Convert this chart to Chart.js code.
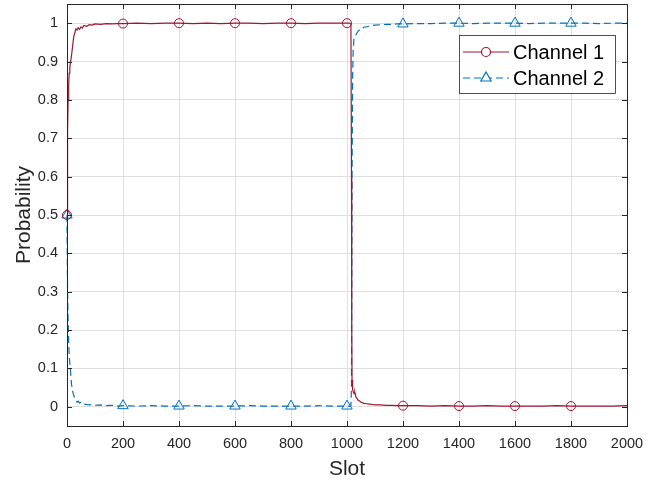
<!DOCTYPE html>
<html>
<head>
<meta charset="utf-8">
<script src="https://cdn.jsdelivr.net/npm/chart.js@4.4.0/dist/chart.umd.min.js"></script>
<style>
  html, body { margin: 0; padding: 0; background: #fff; }
  #wrap { width: 665px; height: 483px; }
</style>
</head>
<body>
<div id="wrap"><canvas id="probChart" width="665" height="483"></canvas></div>
<script>
const slots = [0, 2, 4, 6, 8, 10, 13, 16, 20, 24, 28, 32, 36, 40, 45, 50, 55, 60, 70, 80, 90, 100,
  120, 140, 160, 180, 200, 250, 300, 350, 400, 450, 500, 550, 600, 650, 700, 750, 800, 850, 900, 950,
  1000, 1010, 1014, 1016, 1017, 1018, 1020, 1022, 1025, 1028, 1032, 1036, 1040, 1045, 1050, 1055, 1060,
  1070, 1080, 1090, 1100, 1120, 1140, 1160, 1180, 1200, 1250, 1300, 1350, 1400, 1450, 1500, 1550, 1600,
  1650, 1700, 1750, 1800, 1850, 1900, 1950, 2000];

const channel1 = [0.5, 0.72, 0.8, 0.84, 0.87, 0.885, 0.9, 0.915, 0.94, 0.965, 0.975, 0.985, 0.982, 0.988, 0.984, 0.99, 0.987, 0.994, 0.992, 0.996, 0.995, 0.998,
  0.997, 0.999, 0.998, 0.999, 0.999, 1.0, 0.999, 1.0, 1.0, 0.999, 1.0, 0.999, 1.0, 1.0, 0.999, 1.0, 1.0, 0.999, 1.0, 1.0,
  1.0, 1.0, 0.998, 0.6, 0.2, 0.07, 0.045, 0.04, 0.034, 0.038, 0.025, 0.022, 0.017, 0.015, 0.012, 0.011, 0.009,
  0.008, 0.007, 0.006, 0.005, 0.005, 0.004, 0.004, 0.003, 0.003, 0.003, 0.002, 0.003, 0.002, 0.002, 0.003, 0.002, 0.002,
  0.002, 0.002, 0.003, 0.002, 0.002, 0.002, 0.002, 0.003];

const channel2 = [0.5, 0.3, 0.22, 0.17, 0.13, 0.115, 0.09, 0.06, 0.04, 0.03, 0.022, 0.018, 0.012, 0.015, 0.01, 0.012, 0.008, 0.007, 0.006, 0.005, 0.006, 0.004,
  0.005, 0.003, 0.004, 0.002, 0.003, 0.002, 0.003, 0.002, 0.002, 0.003, 0.002, 0.002, 0.002, 0.003, 0.002, 0.002, 0.002, 0.002, 0.003, 0.002,
  0.002, 0.002, 0.003, 0.05, 0.3, 0.6, 0.85, 0.93, 0.96, 0.965, 0.97, 0.975, 0.98, 0.982, 0.986, 0.985, 0.99,
  0.99, 0.993, 0.994, 0.995, 0.996, 0.997, 0.997, 0.998, 0.998, 0.999, 0.999, 1.0, 1.0, 0.999, 1.0, 1.0, 1.0,
  0.999, 1.0, 1.0, 1.0, 1.0, 0.999, 1.0, 1.0];

const markerSlots = [0, 200, 400, 600, 800, 1000, 1200, 1400, 1600, 1800];
const xTicks = [0, 200, 400, 600, 800, 1000, 1200, 1400, 1600, 1800, 2000];
const yTicks = [0, 0.1, 0.2, 0.3, 0.4, 0.5, 0.6, 0.7, 0.8, 0.9, 1];
const yTickLabels = ['0', '0.1', '0.2', '0.3', '0.4', '0.5', '0.6', '0.7', '0.8', '0.9', '1'];
const seriesNames = ['Channel 1', 'Channel 2'];

const RED = '#A2142F';
const BLUE = '#0072BD';
const AXIS = '#262626';
const FONT = '"Liberation Sans", Arial, Helvetica, sans-serif';

function toPoints(ys) {
  return slots.map((s, i) => ({ x: s, y: ys[i] }));
}

function markerRadius(r) {
  return ctx => markerSlots.includes(slots[ctx.dataIndex]) ? r : 0;
}

// MATLAB style box with inward ticks, plus legend
const boxPlugin = {
  id: 'box',
  afterDraw(chart) {
    const { ctx, chartArea: a, scales } = chart;
    ctx.save();
    ctx.strokeStyle = AXIS;
    ctx.lineWidth = 1;
    ctx.strokeRect(a.left + 0.5, a.top + 0.5, a.right - a.left, a.bottom - a.top);
    ctx.beginPath();
    xTicks.forEach(v => {
      const px = Math.round(scales.x.getPixelForValue(v)) + 0.5;
      ctx.moveTo(px, a.bottom); ctx.lineTo(px, a.bottom - 5);
      ctx.moveTo(px, a.top); ctx.lineTo(px, a.top + 5);
    });
    yTicks.forEach(v => {
      const py = Math.round(scales.y.getPixelForValue(v)) + 0.5;
      ctx.moveTo(a.left, py); ctx.lineTo(a.left + 5, py);
      ctx.moveTo(a.right, py); ctx.lineTo(a.right - 5, py);
    });
    ctx.stroke();

    // legend
    const lx = 459, ly = 35, lw = 156, lh = 58;
    ctx.fillStyle = '#fff';
    ctx.fillRect(lx, ly, lw, lh);
    ctx.strokeStyle = AXIS;
    ctx.lineWidth = 0.8;
    ctx.strokeRect(lx + 0.5, ly + 0.5, lw, lh);
    const rows = [
      { name: seriesNames[0], color: RED, dash: [], marker: 'circle', y: ly + 17 },
      { name: seriesNames[1], color: BLUE, dash: [7, 4], marker: 'triangle', y: ly + 43 }
    ];
    rows.forEach(r => {
      ctx.strokeStyle = r.color;
      ctx.lineWidth = 1.2;
      ctx.setLineDash(r.dash);
      ctx.beginPath();
      ctx.moveTo(lx + 4, r.y); ctx.lineTo(lx + 50, r.y);
      ctx.stroke();
      ctx.setLineDash([]);
      ctx.beginPath();
      const cx = lx + 27;
      if (r.marker === 'circle') {
        ctx.fillStyle = '#fff';
        ctx.arc(cx, r.y, 4.5, 0, Math.PI * 2);
        ctx.fill();
      } else {
        ctx.fillStyle = '#fff';
        const rr = 6;
        ctx.moveTo(cx, r.y - rr);
        ctx.lineTo(cx + rr * 0.866, r.y + rr * 0.5);
        ctx.lineTo(cx - rr * 0.866, r.y + rr * 0.5);
        ctx.closePath();
        ctx.fill();
      }
      ctx.stroke();
      ctx.fillStyle = '#000';
      ctx.font = '20px ' + FONT;
      ctx.textBaseline = 'middle';
      ctx.textAlign = 'left';
      ctx.fillText(r.name, lx + 54, r.y + 1);
    });
    ctx.restore();
  }
};

new Chart(document.getElementById('probChart'), {
  type: 'line',
  data: {
    datasets: [{
      label: seriesNames[0],
      data: toPoints(channel1),
      borderColor: RED,
      borderWidth: 1.2,
      pointStyle: 'circle',
      pointRadius: markerRadius(4.5),
      pointBorderColor: RED,
      pointBackgroundColor: 'rgba(0,0,0,0)',
      pointBorderWidth: 1,
      tension: 0,
      clip: false
    }, {
      label: seriesNames[1],
      data: toPoints(channel2),
      borderColor: BLUE,
      borderWidth: 1.2,
      borderDash: [7, 4],
      pointStyle: 'triangle',
      pointRadius: markerRadius(6),
      pointBorderColor: BLUE,
      pointBackgroundColor: 'rgba(0,0,0,0)',
      pointBorderWidth: 1,
      tension: 0,
      clip: false
    }]
  },
  options: {
    responsive: false,
    animation: false,
    layout: { autoPadding: false, padding: { left: 0, top: 4, right: 38, bottom: 0 } },
    plugins: { legend: { display: false }, tooltip: { enabled: false } },
    scales: {
      x: {
        type: 'linear',
        min: 0, max: 2000,
        afterBuildTicks: s => { s.ticks = xTicks.map(v => ({ value: v })); },
        afterFit: s => { s.height = 57; s.paddingLeft = 0; s.paddingRight = 0; },
        grid: { color: '#dfdfdf', drawTicks: false },
        border: { display: false },
        ticks: { color: AXIS, padding: 9, font: { family: FONT, size: 14.5 }, maxRotation: 0,
                 callback: v => String(v) },
        title: { display: true, text: 'Slot', color: AXIS, font: { family: FONT, size: 21 }, padding: { top: 0, bottom: 1 } }
      },
      y: {
        type: 'linear',
        min: -0.05, max: 1.05,
        afterBuildTicks: s => { s.ticks = yTicks.map(v => ({ value: v })); },
        afterFit: s => { s.width = 67; s.paddingTop = 0; s.paddingBottom = 0; },
        grid: { color: '#dfdfdf', drawTicks: false },
        border: { display: false },
        ticks: { color: AXIS, padding: 9, font: { family: FONT, size: 14.5 },
                 callback: (v, i) => yTickLabels[i] },
        title: { display: true, text: 'Probability', color: AXIS, font: { family: FONT, size: 21 }, padding: { top: 12, bottom: 0 } }
      }
    }
  },
  plugins: [boxPlugin]
});
</script>
</body>
</html>
